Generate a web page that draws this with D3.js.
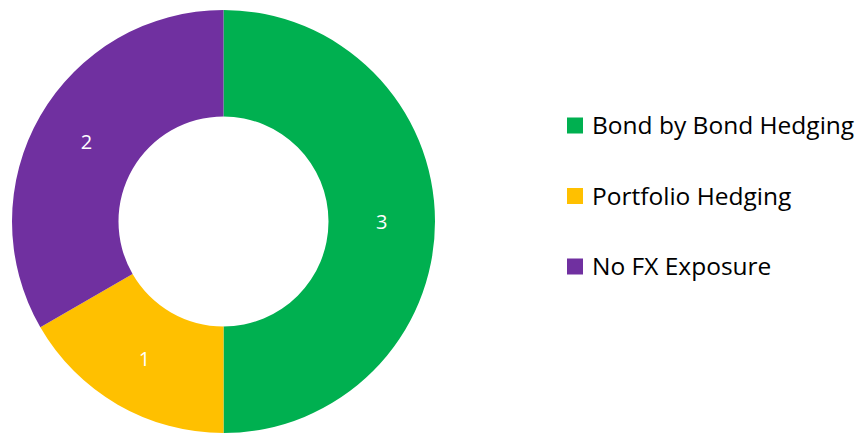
<!DOCTYPE html>
<html lang="en">
<head>
<meta charset="utf-8"/>
<title>FX hedging donut</title>
<script src="https://d3js.org/d3.v7.min.js"></script>
<style>
  body { margin: 0; background: #fff; }
  text { font-family: "Open Sans", "Liberation Sans", sans-serif; }
</style>
</head>
<body>
<div id="chart"></div>
<script>
// data
var categories = ["Bond by Bond Hedging", "Portfolio Hedging", "No FX Exposure"];
var values = [3, 1, 2];
var colors = ["#00B050", "#FFC000", "#7030A0"];

var width = 868, height = 435;
var cx = 223.5, cy = 221.5,
    outerR = 211.5, innerR = 105;

var svg = d3.select("#chart").append("svg")
    .attr("width", width)
    .attr("height", height);

var color = d3.scaleOrdinal().domain(categories).range(colors);

var pie = d3.pie().sort(null).value(function(d) { return d.value; });
var arc = d3.arc().innerRadius(innerR).outerRadius(outerR);

var data = categories.map(function(c, i) { return {name: c, value: values[i]}; });

var g = svg.append("g").attr("transform", "translate(" + cx + "," + cy + ")");

var slices = g.selectAll("g.slice")
    .data(pie(data))
    .enter().append("g").attr("class", "slice");

slices.append("path")
    .attr("d", arc)
    .attr("fill", function(d) { return color(d.data.name); });

// value labels at slice centroids
slices.append("text")
    .attr("transform", function(d) { return "translate(" + arc.centroid(d) + ")"; })
    .attr("text-anchor", "middle")
    .attr("dy", "0.35em")
    .attr("fill", "#fff")
    .attr("font-size", 20)
    .text(function(d) { return d.data.value; });

// legend
var legend = svg.append("g")
    .attr("transform", "translate(567,0)")
    .selectAll("g")
    .data(categories)
    .enter().append("g")
    .attr("transform", function(d, i) { return "translate(0," + (125.5 + i * 70.5) + ")"; });

legend.append("rect")
    .attr("x", 0)
    .attr("y", -8)
    .attr("width", 16)
    .attr("height", 16)
    .attr("fill", color);

legend.append("text")
    .attr("x", 25)
    .attr("y", 0)
    .attr("dy", "0.35em")
    .attr("font-size", 24.5)
    .attr("fill", "#000")
    .text(function(d) { return d; });
</script>
</body>
</html>
